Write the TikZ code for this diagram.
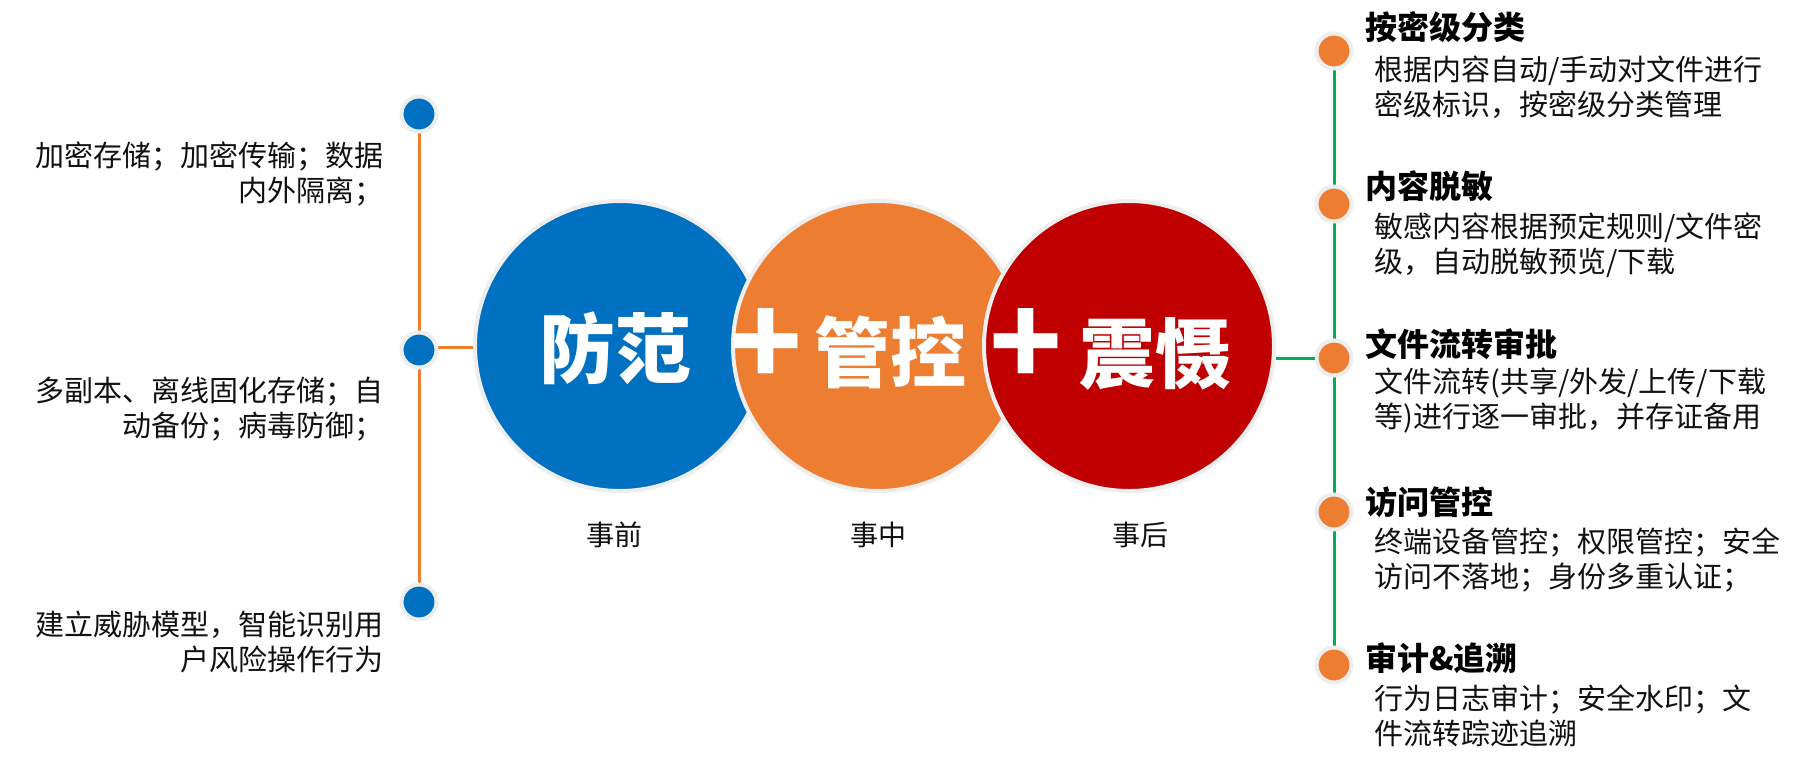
\documentclass[tikz,border=0pt]{standalone}
\usepackage{fontspec}
\setmainfont{Noto Sans CJK SC}
\definecolor{cblue}{HTML}{0070C0}
\definecolor{corange}{HTML}{ED7D31}
\definecolor{cred}{HTML}{C00000}
\definecolor{cgreen}{HTML}{00B050}
\definecolor{cring}{HTML}{EEEEEE}
\definecolor{ctext}{HTML}{111111}
\tikzset{
  bigball/.style={circle, minimum size=290pt, inner sep=0pt, draw=cring, line width=4pt},
  dotnode/.style={circle, minimum size=35pt, inner sep=0pt, draw=cring, line width=4pt},
  ltext/.style={anchor=east, align=right, inner sep=0pt, text=ctext, font=\fontsize{29}{35}\selectfont},
  rtext/.style={anchor=west, align=left, inner sep=0pt, text=ctext, font=\fontsize{29}{35}\selectfont},
  rhead/.style={anchor=west, inner sep=0pt, text=black, font=\fontsize{32}{38}\selectfont\bfseries},
  bigword/.style={inner sep=0pt, text=white, font=\fontsize{76}{80}\selectfont\bfseries},
  plussign/.style={inner sep=0pt, text=white, font=\fontsize{120}{120}\selectfont\bfseries},
  phase/.style={inner sep=0pt, text=ctext, font=\fontsize{28}{34}\selectfont},
  orangeline/.style={draw=corange, line width=3pt},
  greenline/.style={draw=cgreen, line width=3pt}
}
\begin{document}
\begin{tikzpicture}[x=1pt, y=-1pt]
\path[use as bounding box, fill=white] (0,0) rectangle (1799,758);

% coordinates for dots (positions only)
\coordinate (pl1) at (419,114);
\coordinate (pl2) at (419,350);
\coordinate (pl3) at (419,602);

% big circles
\node[bigball, fill=cblue]   (blue)   at (620,346) {};
\node[bigball, fill=corange] (orange) at (878,346) {};
\node[bigball, fill=cred]    (red)    at (1129,346) {};

% left connectors
\draw[orangeline] (pl1) -- (pl3);
\draw[orangeline] (419,347) -- (blue.west |- 0,347);

% left dots
\node[dotnode, fill=cblue] (ld1) at (pl1) {};
\node[dotnode, fill=cblue] (ld2) at (pl2) {};
\node[dotnode, fill=cblue] (ld3) at (pl3) {};

% right dots
\coordinate (pr1) at (1334,51);
\coordinate (pr5) at (1334,665);
\draw[greenline] (pr1) -- (pr5);
\node[dotnode, fill=corange] (rd1) at (1334,51) {};
\node[dotnode, fill=corange] (rd2) at (1334,204) {};
\node[dotnode, fill=corange] (rd3) at (1334,358) {};
\node[dotnode, fill=corange] (rd4) at (1334,512) {};
\node[dotnode, fill=corange] (rd5) at (1334,665) {};
\draw[greenline] (red.east |- rd3) -- (rd3.west);

% words in circles
\node[bigword] (w1) at (615,348) {防范};
\node[plussign] (p1) at (766,347) {+};
\node[bigword] (w2) at (890,352) {管控};
\node[plussign] (p2) at (1026,347) {+};
\node[bigword] (w3) at (1155,354) {震慑};

% phase labels
\node[phase] (ph1) at (614,535) {事前};
\node[phase] (ph2) at (878,535) {事中};
\node[phase] (ph3) at (1140,535) {事后};

% left texts
\node[ltext] (lt1) at (384,174.5) {加密存储；加密传输；数据\\内外隔离；};
\node[ltext] (lt2) at (384,409.5) {多副本、离线固化存储；自\\动备份；病毒防御；};
\node[ltext] (lt3) at (384,642) {建立威胁模型，智能识别用\\户风险操作行为};

% right headings
\node[rhead] (h1) at (1365,27) {按密级分类};
\node[rhead] (h2) at (1365,186) {内容脱敏};
\node[rhead] (h3) at (1365,344) {文件流转审批};
\node[rhead] (h4) at (1365,502) {访问管控};
\node[rhead] (h5) at (1365,658) {审计\&追溯};

% right bodies
\node[rtext] (b1) at (1374,87.5) {根据内容自动/手动对文件进行\\密级标识，按密级分类管理};
\node[rtext] (b2) at (1374,245.5) {敏感内容根据预定规则/文件密\\级，自动脱敏预览/下载};
\node[rtext] (b3) at (1374,400.5) {文件流转(共享/外发/上传/下载\\等)进行逐一审批，并存证备用};
\node[rtext] (b4) at (1374,559.5) {终端设备管控；权限管控；安全\\访问不落地；身份多重认证；};
\node[rtext] (b5) at (1374,715.5) {行为日志审计；安全水印；文\\件流转踪迹追溯};
\end{tikzpicture}
\end{document}
